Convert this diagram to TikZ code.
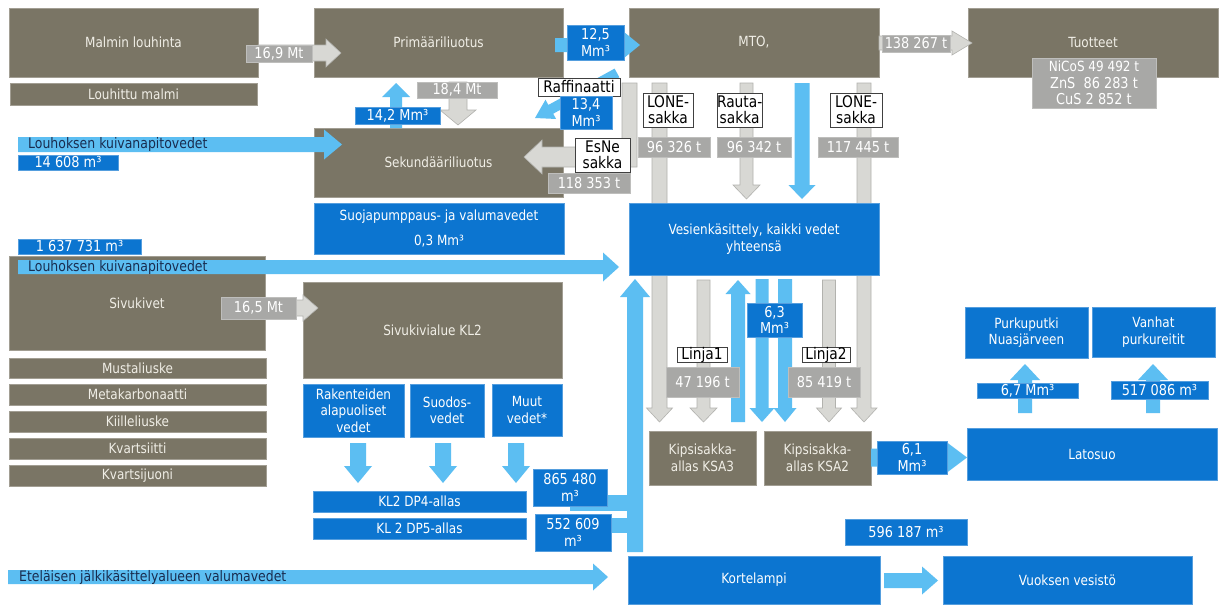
\documentclass[tikz,border=0pt]{standalone}
\usepackage{fontspec}
\setmainfont{DejaVu Sans}[FakeStretch=0.86]
\usetikzlibrary{calc}
\definecolor{brn}{RGB}{122,117,101}
\definecolor{dblue}{RGB}{12,117,208}
\definecolor{lblue}{RGB}{92,190,242}
\definecolor{glab}{RGB}{168,168,166}
\definecolor{garr}{RGB}{216,216,212}
\definecolor{garrline}{RGB}{178,178,174}
\definecolor{navy}{RGB}{25,45,80}
\definecolor{btext}{RGB}{240,238,230}
\newcommand\bx[7]{%
  \pgfmathsetmacro\bxw{#5-#3}%
  \pgfmathsetmacro\bxh{#6-#4}%
  \node[#1,anchor=north west,minimum width=\bxw pt,minimum height=\bxh pt] (#2) at (#3,#4) {#7};}
\newcommand\barrow[6]{%
  \path let \p1=(#2), \p2=(#3) in
    \pgfextra{\pgfmathparse{atan2(\y2-\y1,\x2-\x1)}\xdef\baA{\pgfmathresult}%
      \pgfmathparse{veclen(\x2-\x1,\y2-\y1)}\xdef\baL{\pgfmathresult}%
      \xdef\baX{\x1}\xdef\baY{\y1}};
  \begin{scope}[shift={(\baX,\baY)},rotate=\baA]
    \path[#1] (0,#4) -- (\baL-#6,#4) -- (\baL-#6,#5) -- (\baL,0) -- (\baL-#6,-#5) -- (\baL-#6,-#4) -- (0,-#4) -- cycle;
  \end{scope}}
\tikzset{
  brownbox/.style={fill=brn, draw=brn!70!white, line width=0.6pt, text=btext, inner sep=0pt, outer sep=0pt, align=center, font=\fontsize{14}{16.5}\selectfont},
  bluebox/.style={fill=dblue, draw=dblue!70!white, line width=0.6pt, text=white, inner sep=0pt, outer sep=0pt, align=center, font=\fontsize{14}{16.5}\selectfont},
  bluelab/.style={bluebox, font=\fontsize{15}{16.5}\selectfont},
  graylab/.style={fill=glab, draw=glab!75!white, line width=0.6pt, text=white, inner sep=0pt, outer sep=0pt, align=center, font=\fontsize{15}{16.5}\selectfont},
  whitelab/.style={fill=white, draw=black!75, line width=0.9pt, text=black, inner sep=0pt, outer sep=0pt, align=center, font=\fontsize{16}{16}\selectfont},
  grayarrow/.style={fill=garr, draw=garrline, line width=0.6pt},
  bluearrow/.style={fill=lblue},
  flowtext/.style={text=navy, anchor=west, inner sep=0pt, font=\fontsize{14.5}{16}\selectfont},
}
\begin{document}
\begin{tikzpicture}[x=1pt,y=-1pt]
\useasboundingbox (0,0) rectangle (1220,605);
\fill[white] (0,0) rectangle (1220,605);
% ---- arrow end coordinates
\coordinate (g1a) at (258,53);   \coordinate (g1b) at (341,53);
\coordinate (g2a) at (458,82);   \coordinate (g2b) at (458,125);
\coordinate (g3a) at (879,43);   \coordinate (g3b) at (972,43);
\coordinate (g4a) at (265,308);  \coordinate (g4b) at (318,308);
\coordinate (g6a) at (659.5,83); \coordinate (g6b) at (659.5,422);
\coordinate (g7a) at (746.5,83); \coordinate (g7b) at (746.5,199);
\coordinate (g8a) at (864,83);   \coordinate (g8b) at (864,422);
\coordinate (g9a) at (703.5,280);\coordinate (g9b) at (703.5,422);
\coordinate (g10a) at (829,280); \coordinate (g10b) at (829,422);
\coordinate (b1a) at (555,45);   \coordinate (b1b) at (640,45);
\coordinate (b2a) at (18,144.5); \coordinate (b2b) at (342,144.5);
\coordinate (b3a) at (396,128);  \coordinate (b3b) at (396,83);
\coordinate (b4a) at (617,73);   \coordinate (b4b) at (535,118);
\coordinate (b5a) at (802,83);   \coordinate (b5b) at (802,199);
\coordinate (b6a) at (18,267);   \coordinate (b6b) at (619,267);
\coordinate (b7a) at (635,552);  \coordinate (b7b) at (635,279);
\coordinate (b8a) at (738,422);  \coordinate (b8b) at (738,280);
\coordinate (b9a) at (762,279);  \coordinate (b9b) at (762,422);
\coordinate (b10a) at (785,279); \coordinate (b10b) at (785,422);
\coordinate (b11a) at (358,443); \coordinate (b11b) at (358,483);
\coordinate (b12a) at (443,443); \coordinate (b12b) at (443,483);
\coordinate (b13a) at (516,443); \coordinate (b13b) at (516,483);
\coordinate (b14a) at (871,457.5);\coordinate (b14b) at (967,457.5);
\coordinate (b15a) at (1025,413);\coordinate (b15b) at (1025,364);
\coordinate (b16a) at (1153,413);\coordinate (b16b) at (1153,364);
\coordinate (b17a) at (8,577);   \coordinate (b17b) at (608,577);
\coordinate (b18a) at (884,580.5);\coordinate (b18b) at (938,580.5);
% ---- arrows behind boxes
\barrow{grayarrow}{g6a}{g6b}{7.5}{13}{14}
\barrow{grayarrow}{g8a}{g8b}{7}{13}{14}
\barrow{grayarrow}{g7a}{g7b}{6.5}{13.5}{14}
\barrow{bluearrow}{b5a}{b5b}{7.5}{13.5}{14}
\barrow{grayarrow}{g9a}{g9b}{6.5}{13.5}{14}
\barrow{grayarrow}{g10a}{g10b}{6.5}{12.5}{14}
\barrow{bluearrow}{b8a}{b8b}{7}{12.5}{14}
\barrow{bluearrow}{b9a}{b9b}{6.5}{12.5}{14}
\barrow{bluearrow}{b10a}{b10b}{7}{11.5}{14}
\fill[bluearrow] (570,495) rectangle (640,511);
\fill[bluearrow] (605,518) rectangle (640,533);
\barrow{bluearrow}{b7a}{b7b}{8}{15}{18}
% ---- brown boxes
\bx{brownbox}{malmi}{9}{8}{258}{77}{Malmin louhinta}
\bx{brownbox}{louhittu}{10}{83}{257}{105}{Louhittu malmi}
\bx{brownbox}{prim}{314}{8}{563}{77}{Primääriliuotus}
\bx{brownbox}{mto}{629}{8}{879}{77}{MTO,}
\bx{brownbox}{tuot}{968}{8}{1218}{77}{Tuotteet}
\bx{brownbox}{sek}{314}{128}{563}{197}{Sekundääriliuotus}
\bx{brownbox}{sivu}{9}{256}{265}{350}{Sivukivet}
\bx{brownbox}{must}{9}{358}{266}{378}{Mustaliuske}
\bx{brownbox}{meta}{9}{384}{266}{405}{Metakarbonaatti}
\bx{brownbox}{kiille}{9}{411}{266}{432}{Kiilleliuske}
\bx{brownbox}{kvsi}{9}{438}{266}{459}{Kvartsiitti}
\bx{brownbox}{kvju}{9}{465}{266}{486}{Kvartsijuoni}
\bx{brownbox}{kl2}{303}{282}{562}{378}{Sivukivialue KL2}
\bx{brownbox}{ksa3}{649}{431}{756}{485}{Kipsisakka-\\allas KSA3}
\bx{brownbox}{ksa2}{764}{431}{871}{485}{Kipsisakka-\\allas KSA2}
% ---- blue boxes
\bx{bluebox}{suoja}{314}{203}{564}{254}{Suojapumppaus- ja valumavedet\\[9pt]0,3 Mm³}
\bx{bluebox}{vesi}{629}{203}{879}{275}{Vesienkäsittely, kaikki vedet\\yhteensä}
\bx{bluebox}{rak}{303}{384}{404}{437}{Rakenteiden\\alapuoliset\\vedet}
\bx{bluebox}{suod}{410}{384}{484}{437}{Suodos-\\vedet}
\bx{bluebox}{muut}{492}{384}{562}{436}{Muut\\vedet*}
\bx{bluebox}{dp4}{313}{491}{526}{512}{KL2 DP4-allas}
\bx{bluebox}{dp5}{313}{518}{526}{539}{KL 2 DP5-allas}
\bx{bluebox}{purku}{965}{307}{1088}{358}{Purkuputki\\Nuasjärveen}
\bx{bluebox}{vanhat}{1092}{307}{1215}{357}{Vanhat\\purkureitit}
\bx{bluebox}{lato}{967}{428}{1217}{480}{Latosuo}
\bx{bluebox}{korte}{628}{556}{880}{604}{Kortelampi}
\bx{bluebox}{vuoksi}{943}{556}{1192}{604}{Vuoksen vesistö}
% ---- arrows on top of boxes
\barrow{grayarrow}{g1a}{g1b}{8}{14}{15}
\barrow{grayarrow}{g2a}{g2b}{9}{18}{15}
\barrow{grayarrow}{g3a}{g3b}{7}{12}{20}
\barrow{grayarrow}{g4a}{g4b}{8}{13}{15}
\coordinate (e1) at (622,83);  \coordinate (e2) at (637,83);
\coordinate (e3) at (637,167); \coordinate (e4) at (542,167);
\coordinate (e5) at (542,174); \coordinate (e6) at (524,157);
\coordinate (e7) at (542,140); \coordinate (e8) at (542,147);
\coordinate (e9) at (622,147);
\path[grayarrow] (e1) -- (e2) -- (e3) -- (e4) -- (e5) -- (e6) -- (e7) -- (e8) -- (e9) -- cycle;
\barrow{bluearrow}{b1a}{b1b}{7}{13}{16}
\barrow{bluearrow}{b2a}{b2b}{7.5}{15}{18}
\barrow{bluearrow}{b3a}{b3b}{6}{14}{14}
\barrow{bluearrow}{b4a}{b4b}{5}{11}{18}
\barrow{bluearrow}{b6a}{b6b}{7}{14.5}{16}
\barrow{bluearrow}{b11a}{b11b}{8}{14}{17}
\barrow{bluearrow}{b12a}{b12b}{8}{14}{17}
\barrow{bluearrow}{b13a}{b13b}{8}{14}{17}
\barrow{bluearrow}{b14a}{b14b}{9}{15}{20}
\barrow{bluearrow}{b15a}{b15b}{7}{15}{16}
\barrow{bluearrow}{b16a}{b16b}{7}{15}{16}
\barrow{bluearrow}{b17a}{b17b}{7}{13.5}{15}
\barrow{bluearrow}{b18a}{b18b}{7.5}{14}{16}
\node[flowtext] (louh1) at (28,144.5) {Louhoksen kuivanapitovedet};
\node[flowtext] (louh2) at (28,267) {Louhoksen kuivanapitovedet};
\node[flowtext] (etel) at (19,577) {Eteläisen jälkikäsittelyalueen valumavedet};
% ---- gray labels
\bx{graylab}{l169}{246}{45}{312}{62}{16,9 Mt}
\bx{graylab}{l184}{417}{82}{497}{98}{18,4 Mt}
\bx{graylab}{l138}{882}{35}{950}{52}{138 267 t}
\bx{graylab}{l118}{548}{173}{630}{193}{118 353 t}
\bx{graylab}{l963}{638}{137}{710}{157}{96 326 t}
\bx{graylab}{l964}{717}{137}{791}{157}{96 342 t}
\bx{graylab}{l117}{818}{137}{898}{157}{117 445 t}
\bx{graylab}{l165}{221}{297}{296}{319}{16,5 Mt}
\bx{graylab}{l47}{666}{367}{739}{397}{47 196 t}
\bx{graylab}{l85}{788}{367}{860}{397}{85 419 t}
\bx{graylab}{nicos}{1032}{58}{1156}{108}{\fontsize{14}{16.5}\selectfont NiCoS 49 492 t\\ZnS~~86 283 t\\CuS 2 852 t}
% ---- white labels
\bx{whitelab}{raff}{538}{78}{620}{96}{Raffinaatti}
\bx{whitelab}{esne}{575}{138}{630}{172}{EsNe\\sakka}
\bx{whitelab}{lone1}{643}{93}{693}{127}{LONE-\\sakka}
\bx{whitelab}{rauta}{717}{93}{762}{127}{Rauta-\\sakka}
\bx{whitelab}{lone2}{830}{93}{882}{127}{LONE-\\sakka}
\bx{whitelab}{linja1}{677}{347}{727}{362}{Linja1}
\bx{whitelab}{linja2}{802}{347}{850}{362}{Linja2}
% ---- blue labels
\bx{bluelab}{v125}{567}{25}{624}{60}{12,5\\Mm³}
\bx{bluelab}{v14608}{18}{155}{118}{170}{14 608 m³}
\bx{bluelab}{v142}{355}{107}{440}{124}{14,2 Mm³}
\bx{bluelab}{v134}{560}{96}{612}{129}{13,4\\Mm³}
\bx{bluelab}{v1637}{18}{239}{141}{254}{1 637 731 m³}
\bx{bluelab}{v63}{747}{303}{802}{337}{6,3\\Mm³}
\bx{bluelab}{v865}{533}{469}{607}{506}{865 480\\m³}
\bx{bluelab}{v552}{535}{514}{611}{551}{552 609\\m³}
\bx{bluelab}{v67}{977}{383}{1078}{398}{6,7 Mm³}
\bx{bluelab}{v517}{1111}{381}{1208}{399}{517 086 m³}
\bx{bluelab}{v61}{877}{441}{947}{474}{6,1\\Mm³}
\bx{bluelab}{v596}{845}{519}{967}{545}{596 187 m³}
\end{tikzpicture}
\end{document}
